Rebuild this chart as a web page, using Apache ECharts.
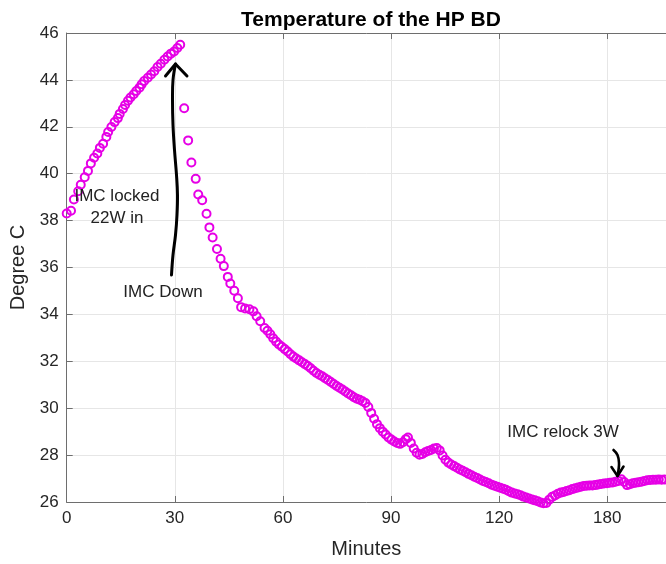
<!DOCTYPE html>
<html>
<head>
<meta charset="utf-8">
<script src="https://cdn.jsdelivr.net/npm/echarts@6/dist/echarts.min.js"></script>
<style>
html,body{margin:0;padding:0;background:#fff;overflow:hidden;}
#chart{width:666px;height:564px;}
</style>
</head>
<body>
<div id="chart"></div>
<script>
// ---- data ----
const titleText = 'Temperature of the HP BD';
const xAxisName = 'Minutes';
const yAxisName = 'Degree C';
const xTickLabels = ['0', '30', '60', '90', '120', '180'];
const yTicks = [26, 28, 30, 32, 34, 36, 38, 40, 42, 44, 46];

const minutes = [
  0, 1.2, 2.0, 3.2, 3.9, 5.0, 5.9, 6.7, 7.6, 8.5, 9.2, 10.1, 11.0, 11.5, 12.4, 13.3, 14.2, 14.7, 15.6, 16.2,
  17.0, 17.7, 18.6, 19.3, 20.2, 20.8, 21.5, 22.5, 23.4, 24.3, 25.2, 26.1, 27.1, 28.0, 28.9, 29.8, 30.7, 31.5,
  32.6, 33.7, 34.6, 35.8, 36.5, 37.6, 38.8, 39.6, 40.5, 41.7, 42.7, 43.6, 44.7, 45.4, 46.5, 47.5, 48.4, 49.5,
  50.7, 51.8, 52.7, 53.7,
  54.9, 55.7, 56.5, 57.3, 58.1, 58.9, 59.7, 60.5, 61.3, 62.1, 62.9, 63.7, 64.5, 65.3, 66.1, 66.9, 67.7, 68.5,
  69.3, 70.1, 70.9, 71.7, 72.5, 73.3, 74.1, 74.9, 75.7, 76.5, 77.3, 78.1, 78.9, 79.7, 80.5, 81.3, 82.1, 82.9,
  83.7, 84.5, 85.3, 86.1, 86.9, 87.7, 88.5, 89.3, 90.1, 90.9, 91.7, 92.5, 93.3, 94.1, 94.7, 95.5, 96.3, 97.1,
  97.9, 98.7, 99.5, 100.3, 101.1, 101.9, 102.7, 103.5, 104.3, 105.1, 105.9, 106.7, 107.5, 108.3, 109.1, 109.9,
  110.7, 111.5, 112.3, 113.1, 113.9, 114.7, 115.5, 116.3, 117.1, 117.9, 118.7, 119.5, 120.3, 121.1, 121.9,
  122.7, 123.5, 124.3, 125.1, 125.9, 126.7, 127.5, 128.3, 129.1, 129.9, 130.7, 131.5, 132.3, 133.1, 133.9,
  134.7, 135.5, 136.3, 137.1, 137.9, 138.7, 139.5, 140.3, 141.1, 141.9, 142.7, 143.5, 144.3, 145.1, 145.9,
  146.7, 147.5, 148.3, 149.1, 149.9, 150.7, 151.5, 152.3, 153.1, 153.9, 154.7, 155.5, 156.3, 157.1, 157.9,
  158.7, 159.5, 160.3, 161.1, 161.9, 162.7, 163.5, 164.3, 165.1, 165.9
];

const temps = [
  38.30, 38.42, 38.90, 39.25, 39.53, 39.85, 40.12, 40.44, 40.68, 40.86, 41.10, 41.28, 41.57, 41.78, 41.99, 42.20, 42.37, 42.55, 42.76, 42.93,
  43.11, 43.25, 43.39, 43.53, 43.67, 43.81, 43.95, 44.09, 44.23, 44.37, 44.55, 44.69, 44.86, 45.00, 45.12, 45.21, 45.36, 45.50,
  42.79, 41.42, 40.48, 39.78, 39.11, 38.87, 38.29, 37.71, 37.28, 36.79, 36.37, 36.06, 35.60, 35.32, 35.01, 34.69, 34.31, 34.25,
  34.22, 34.13, 33.92, 33.71,
  33.42, 33.30, 33.15, 32.98, 32.84, 32.72, 32.62, 32.52, 32.42, 32.30, 32.20, 32.12, 32.04, 31.96, 31.88, 31.80, 31.70, 31.60,
  31.50, 31.43, 31.36, 31.28, 31.20, 31.12, 31.03, 30.95, 30.87, 30.80, 30.71, 30.63, 30.55, 30.47, 30.40, 30.36, 30.30, 30.22,
  30.05, 29.80, 29.55, 29.32, 29.15, 29.00, 28.88, 28.75, 28.66, 28.58, 28.52, 28.48, 28.55, 28.68, 28.75, 28.52, 28.28, 28.10,
  28.02, 28.05, 28.12, 28.18, 28.22, 28.28, 28.30, 28.20, 27.98, 27.80, 27.68, 27.60, 27.53, 27.46, 27.39, 27.33,
  27.27, 27.20, 27.14, 27.08, 27.02, 26.96, 26.90, 26.85, 26.80, 26.74, 26.69, 26.65, 26.61, 26.57, 26.52,
  26.46, 26.40, 26.36, 26.33, 26.29, 26.23, 26.19, 26.15, 26.11, 26.07, 26.03, 25.98, 25.95, 25.96, 26.10,
  26.22, 26.28, 26.35, 26.40, 26.43, 26.47, 26.50, 26.55, 26.59, 26.62, 26.65, 26.68, 26.69, 26.70, 26.70,
  26.72, 26.75, 26.77, 26.79, 26.80, 26.82, 26.83, 26.86, 26.90, 26.97, 26.85, 26.72, 26.76, 26.80, 26.82,
  26.84, 26.86, 26.90, 26.93, 26.94, 26.95, 26.95, 26.96, 26.95, 26.96
];

const annotations = [
  { text: 'IMC locked\n22W in', x: 117, y: 207 },
  { text: 'IMC Down', x: 163, y: 292 },
  { text: 'IMC relock 3W', x: 563, y: 432 }
];

// ---- chart ----
const chart = echarts.init(document.getElementById('chart'), null, { renderer: 'canvas' });
const FONT = '"Liberation Sans", Arial, Helvetica, sans-serif';
const pts = minutes.map((m, i) => [m, temps[i]]);
const mag = '#e600e6';
const axisCol = '#6e6e6e';
const txtCol = '#262626';

const graphics = annotations.map(a => ({
  type: 'text', x: a.x, y: a.y, z: 100,
  style: { text: a.text, font: '17px ' + FONT, fill: '#222', align: 'center', verticalAlign: 'middle', lineHeight: 22 }
}));
graphics.push({
  type: 'polyline', z: 100,
  shape: { points: [[171.5,275],[173,255],[175.5,235],[177,215],[177.5,195],[176.5,175],[174.5,150],[173,125],[172.5,100],[173,80],[175.5,64]], smooth: 0.4 },
  style: { stroke: '#000', lineWidth: 3, fill: null, lineCap: 'round' }
});
graphics.push({
  type: 'polyline', z: 100,
  shape: { points: [[165.5,76],[175.5,64],[187,76]] },
  style: { stroke: '#000', lineWidth: 3, fill: null, lineCap: 'round', lineJoin: 'round' }
});
graphics.push({
  type: 'polyline', z: 100,
  shape: { points: [[613.5,450],[617.5,455],[619,463],[618.5,470],[617.5,476]], smooth: 0.4 },
  style: { stroke: '#000', lineWidth: 2.6, fill: null, lineCap: 'round' }
});
graphics.push({
  type: 'polyline', z: 100,
  shape: { points: [[611.5,467],[617.5,476],[623.5,466.5]] },
  style: { stroke: '#000', lineWidth: 2.6, fill: null, lineCap: 'round', lineJoin: 'round' }
});

const option = {
  backgroundColor: '#fff',
  animation: false,
  title: {
    text: titleText, left: 366, top: 5, textAlign: 'center',
    textStyle: { fontFamily: FONT, fontSize: 21, fontWeight: 'bold', color: '#000' }
  },
  grid: { left: 66.7, width: 607, top: 33, bottom: 55, containLabel: false },
  xAxis: [{
    type: 'value', min: 0, max: 166.3, interval: 30, position: 'bottom',
    name: xAxisName, nameLocation: 'middle', nameGap: 37,
    nameTextStyle: { fontFamily: FONT, fontSize: 20, color: txtCol },
    axisLine: { show: true, lineStyle: { color: axisCol, width: 1 } },
    axisTick: { show: true, inside: true, length: 6, lineStyle: { color: axisCol } },
    axisLabel: { fontFamily: FONT, fontSize: 17, color: txtCol, margin: 8, showMaxLabel: false,
      formatter: v => { const k = Math.round(v / 30); return Math.abs(v - k * 30) < 1e-6 && k < xTickLabels.length ? xTickLabels[k] : ''; } },
    splitLine: { show: true, lineStyle: { color: '#e6e6e6', width: 1 } }
  }, {
    type: 'value', min: 0, max: 166.3, interval: 30, position: 'top',
    axisLine: { show: true, lineStyle: { color: axisCol, width: 1 } },
    axisTick: { show: true, inside: true, length: 6, lineStyle: { color: axisCol } },
    axisLabel: { show: false }, splitLine: { show: false }
  }],
  yAxis: {
    type: 'value', min: yTicks[0], max: yTicks[yTicks.length - 1], interval: 2,
    name: yAxisName, nameLocation: 'middle', nameGap: 30, nameRotate: 90,
    nameTextStyle: { fontFamily: FONT, fontSize: 20, color: txtCol },
    axisLine: { show: true, lineStyle: { color: axisCol, width: 1 } },
    axisTick: { show: true, inside: true, length: 6, lineStyle: { color: axisCol } },
    axisLabel: { fontFamily: FONT, fontSize: 17, color: txtCol, margin: 8 },
    splitLine: { show: true, lineStyle: { color: '#e6e6e6', width: 1 } }
  },
  series: [{
    type: 'scatter', xAxisIndex: 0, data: pts, symbol: 'circle', symbolSize: 8,
    itemStyle: { color: 'rgba(0,0,0,0)', borderColor: mag, borderWidth: 2, opacity: 1 },
    emphasis: { disabled: true }, clip: false
  }],
  graphic: graphics
};
chart.setOption(option);
</script>
</body>
</html>
